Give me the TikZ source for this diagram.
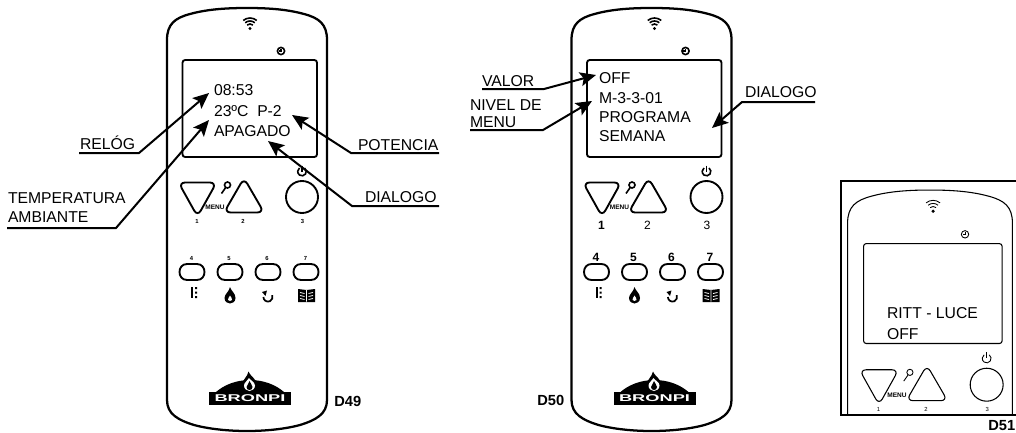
\documentclass[tikz,border=0pt]{standalone}
\usepackage{fontspec}
\setmainfont{Liberation Sans}
\usetikzlibrary{arrows.meta}
\newcommand{\fsz}[1]{\fontsize{#1}{#1}\selectfont}
\tikzset{
  lbl/.style={anchor=base west,inner sep=0pt,outer sep=0pt,font=\fsz{11.8pt},text=black},
  tag/.style={anchor=base west,inner sep=0pt,font=\fsz{11pt}\bfseries},
  leader/.style={line width=1.5pt,-{Stealth[length=12pt,width=10.5pt,inset=2.5pt]},line join=miter},
  dig/.style={inner sep=0pt},
}
% #1 prefix, #2 x shift, #3 y shift, #4 scale, #5 body lw, #6 detail lw, #7 small lw
\newcommand{\remotetop}[7]{%
\begin{scope}[shift={(#2,#3)},scale=#4]
  \draw[line width=#5] (167,400) -- (167,40)
     .. controls (167,24) and (175,18) .. (190,14)
     .. controls (208,9) and (228,8) .. (247,8)
     .. controls (266,8) and (286,9) .. (304,14)
     .. controls (319,18) and (327,24) .. (327,40)
     -- (327,400);
  \fill (250,28.5) circle[radius=1.7];
  \foreach \r in {4.5,7.5,10.5}
    \draw[line width=#7] ([shift={(-130:\r)}]250,28.5) arc[start angle=-130,end angle=-50,radius=\r];
  \draw[line width=#7] (281,51) circle[radius=3.6];
  \draw[line width=#7] (281,48.5) -- (281,51) -- (278.8,51);
  \draw[line width=#6,rounded corners=2pt] (182.5,60) rectangle (317,157);
  \draw[line width=#6,rounded corners=5pt] (178.5,182.5) -- (216.5,182.5) -- (197.5,216.5) -- cycle;
  \draw[line width=#6,rounded corners=5pt] (244,178) -- (264,212.5) -- (224,212.5) -- cycle;
  \draw[line width=#6] (302,197) circle[radius=16];
  \draw[line width=#7] ([shift={(-55:4.3)}]302,171.5) arc[start angle=-55,end angle=235,radius=4.3];
  \draw[line width=#7] (302,165.5) -- (302,171.5);
  \draw[line width=#7] (227.5,185) circle[radius=3];
  \draw[line width=#7] (225.7,187.5) -- (221.5,193.5);
  \node[dig,font=\fsz{4.9pt}\bfseries] (#1menu) at (215,207.5) {MENU};
  \node[dig,font=\digOne] (#1d1) at (197,\digYa) {1};
  \node[dig,font=\digTwo] (#1d2) at (243,\digYa) {2};
  \node[dig,font=\digTwo] (#1d3) at (302.5,\digYa) {3};
\end{scope}}
\newcommand{\remotelow}[3]{%
\begin{scope}[shift={(#2,#3)}]
  \draw[line width=1.7pt] (167,400)
     .. controls (167,414) and (178,420) .. (194,425)
     .. controls (209,429) and (228,431) .. (247,431)
     .. controls (266,431) and (285,429) .. (300,425)
     .. controls (316,420) and (327,414) .. (327,400);
  \foreach \x in {192,230,268,306}
    \draw[line width=1.4pt] (\x-12.5,272) .. controls (\x-12.5,268) and (\x-10,264) .. (\x-5,264) -- (\x+5,264)
      .. controls (\x+10,264) and (\x+12.5,268) .. (\x+12.5,272)
      .. controls (\x+12.5,276) and (\x+10,280) .. (\x+5,280) -- (\x-5,280)
      .. controls (\x-10,280) and (\x-12.5,276) .. (\x-12.5,272) -- cycle;
  \node[dig,font=\digRow] (#1d4) at (191.5,\digYb) {4};
  \node[dig,font=\digRow] (#1d5) at (229,\digYb) {5};
  \node[dig,font=\digRow] (#1d6) at (267,\digYb) {6};
  \node[dig,font=\digRow] (#1d7) at (305.5,\digYb) {7};
  \fill (191,287) rectangle (193,298);
  \fill (195,287) rectangle (197,289) (195,291.5) rectangle (197,293.5) (195,296) rectangle (197,298);
  \fill (230,287) .. controls (231,291) and (235.5,293) .. (235.5,298)
     .. controls (235.5,302) and (232,303.5) .. (230,303.5)
     .. controls (228,303.5) and (224.5,302) .. (224.5,298)
     .. controls (224.5,294) and (229,292) .. cycle;
  \fill[white] (230,295.5) .. controls (231,297.5) and (232.5,298.5) .. (232,300)
     .. controls (231.7,301.3) and (228.3,301.3) .. (228,300)
     .. controls (227.5,298.5) and (229.3,297.5) .. cycle;
  \draw[line width=1.3pt] ([shift={(-25:4.6)}]268,297) arc[start angle=-25,end angle=180,radius=4.6];
  \fill (262,292) -- (267,290.5) -- (265.5,296) -- cycle;
  \fill (298,289) -- (306.5,290) -- (315,289) -- (315,302) -- (298,302) -- cycle;
  \draw[white,line width=.6pt] (306.5,290) -- (306.5,301.5)
     (300,292.5) -- (304.5,293.5) (300,295.5) -- (304.5,296.5) (300,298.5) -- (304.5,299.5)
     (313,292.5) -- (308.5,293.5) (313,295.5) -- (308.5,296.5) (313,298.5) -- (308.5,299.5);
  \fill (216,392) .. controls (224,385) and (236,380) .. (250,380)
     .. controls (264,380) and (276,385) .. (284,392) -- cycle;
  \fill (209,392) rectangle (291,404.5);
  \fill (248.5,371.5) .. controls (249,375) and (257,379) .. (257,385)
     .. controls (257,390) and (253,392) .. (249.5,392)
     .. controls (246,392) and (242,390) .. (242,385)
     .. controls (242,380) and (247.5,377) .. cycle;
  \fill[white] (249,378) .. controls (250,380) and (255,382) .. (255,385.5)
     .. controls (255,389) and (252,391) .. (249.5,391)
     .. controls (247,391) and (244,389) .. (244,385.5)
     .. controls (244,382) and (248,381) .. cycle;
  \fill (249.5,381) .. controls (250,383.5) and (252.5,384.5) .. (252.5,387)
     .. controls (252.5,389) and (251,390) .. (249.5,390)
     .. controls (248,390) and (246.5,389) .. (246.5,387)
     .. controls (246.5,385) and (249,384) .. cycle;
  \node[inner sep=0pt,text=white,font=\fsz{7.4pt}\bfseries,xscale=1.85] (#1brand) at (250,398.3) {BRONPI};
\end{scope}}
\begin{document}
\begin{tikzpicture}[x=0.75pt,y=-0.75pt]
\useasboundingbox (0,0) rectangle (1016,432);
\fill[white] (0,0) rectangle (1016,432);

% ---- D49
\def\digOne{\fsz{4.4pt}\bfseries}\def\digTwo{\fsz{4.4pt}\bfseries}\def\digRow{\fsz{4.4pt}\bfseries}
\def\digYa{221}\def\digYb{258.5}
\remotetop{a}{0}{0}{1}{1.7pt}{1.4pt}{1.2pt}
\remotelow{a}{0}{0}
\node[lbl] (t1) at (214,95) {08:53};
\node[lbl] (t2) at (214,116) {23ºC\hspace{.55em}P-2};
\node[lbl] (t3) at (214,136) {APAGADO};
\node[lbl] (lr) at (80,149) {RELÓG};
\node[lbl] (lt1) at (8,203) {TEMPERATURA};
\node[lbl] (lt2) at (8,222) {AMBIANTE};
\node[lbl] (lp) at (358,150) {POTENCIA};
\node[lbl] (ld) at (365,202) {DIALOGO};
\coordinate (r0) at (79,153); \coordinate (r1) at (139,153); \coordinate (r2) at (209,93);
\coordinate (c0) at (7,228); \coordinate (c1) at (116,228); \coordinate (c2) at (209,120);
\coordinate (p0) at (439,153); \coordinate (p1) at (351,153); \coordinate (p2) at (292,115);
\coordinate (g0) at (439,206); \coordinate (g1) at (352,206); \coordinate (g2) at (268,141);
\draw[leader] (r0) -- (r1) -- (r2);
\draw[leader] (c0) -- (c1) -- (c2);
\draw[leader] (p0) -- (p1) -- (p2);
\draw[leader] (g0) -- (g1) -- (g2);
\node[tag] (d49) at (334,406) {D49};

% ---- D50
\def\digOne{\fsz{9pt}\bfseries}\def\digTwo{\fsz{9pt}}\def\digRow{\fsz{9pt}\bfseries}
\def\digYa{225}\def\digYb{257}
\remotetop{b}{404.5}{0}{1}{1.7pt}{1.4pt}{1.2pt}
\remotelow{b}{404.5}{0}
\node[lbl] (u1) at (599,83) {OFF};
\node[lbl] (u2) at (599,103) {M-3-3-01};
\node[lbl] (u3) at (599,122) {PROGRAMA};
\node[lbl] (u4) at (599,141) {SEMANA};
\node[lbl] (lv) at (482,86) {VALOR};
\node[lbl] (ln1) at (470,110) {NIVEL DE};
\node[lbl] (ln2) at (470,127) {MENU};
\node[lbl] (ldd) at (745,97) {DIALOGO};
\coordinate (v0) at (482,89); \coordinate (v1) at (544,89); \coordinate (v2) at (596,75);
\coordinate (n0) at (470,130); \coordinate (n1) at (543,130); \coordinate (n2) at (592,101);
\coordinate (k0) at (815,102); \coordinate (k1) at (742,102); \coordinate (k2) at (712,128);
\draw[leader] (v0) -- (v1) -- (v2);
\draw[leader] (n0) -- (n1) -- (n2);
\draw[leader] (k0) -- (k1) -- (k2);
\node[tag] (d50) at (537,405) {D50};

% ---- D51
\begin{scope}
  \clip (841,181) rectangle (1016,415);
  \def\digOne{\fsz{4.4pt}}\def\digTwo{\fsz{4.4pt}}\def\digRow{\fsz{4.4pt}}
  \def\digYa{221}
  \remotetop{c}{675.6}{181.8}{1.03}{0.8pt}{0.8pt}{0.65pt}
\end{scope}
\draw[line width=1.7pt] (1016,181) -- (841,181) -- (841,415) -- (1016,415);
\node[lbl] (w1) at (887,318) {RITT - LUCE};
\node[lbl] (w2) at (887,339) {OFF};
\node[tag] (d51) at (988,430) {D51};
\end{tikzpicture}
\end{document}
